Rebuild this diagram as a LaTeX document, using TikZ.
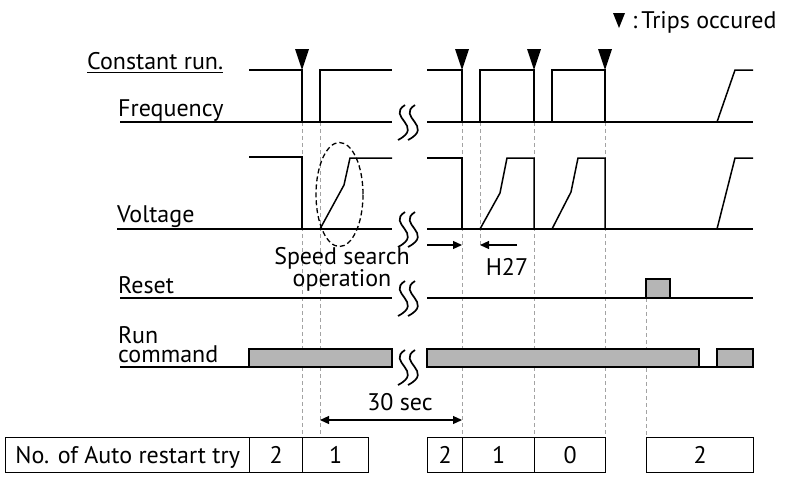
\documentclass[tikz,border=0pt]{standalone}
\usepackage{fontspec}
\setmainfont{PT Sans}
\usetikzlibrary{arrows.meta}
\definecolor{cBar}{HTML}{B5B5B5}
\definecolor{cGuide}{HTML}{A3A3A3}

\begin{document}
\begin{tikzpicture}[
    x=1pt, y=-1pt, font=\fontsize{24}{19}\selectfont,
    base/.style={draw=black, line width=2.2pt},
    sig/.style={draw=black, line width=1.5pt},
    guide/.style={draw=cGuide, line width=1pt, dash pattern=on 4pt off 3pt},
    trip/.style={fill=black, draw=none},
    bar/.style={draw=black, line width=1.3pt, fill=cBar},
    brk/.style={draw=black, line width=1.7pt},
    dim/.style={draw=black, line width=1.2pt, -{Triangle[length=9pt, width=8pt]}},
    lbl/.style={inner sep=0pt, anchor=base west},
    cell/.style={draw=black, line width=1.3pt, minimum height=35pt, inner sep=0pt,
                 anchor=north west, text height=17pt, text depth=0pt},
]
\useasboundingbox (0,0) rectangle (787,477);

% ===================== Guias verticales =====================
\foreach \gx in {302,320,462,534,605}{
    \draw[guide] (\gx,122) -- (\gx,437);
}
\draw[guide] (480,122) -- (480,245);
\draw[guide] (646,298) -- (646,437);

% ===================== Etiquetas =====================
\node[lbl] (crun) at (87,69) {Constant run.};
\draw[line width=1pt] ([yshift=-3pt]crun.south west) -- ([yshift=-3pt]crun.south east);
\node[lbl] (freq) at (118,116) {Frequency};
\node[lbl] (volt) at (117,222) {Voltage};
\node[lbl] (rst) at (118,293) {Reset};
\node[inner sep=0pt, anchor=south west, align=left, text depth=0pt] (run) at (118,363) {Run\\command};
\node[inner sep=0pt, anchor=south, align=center, text depth=0pt,
      font=\fontsize{24}{21}\selectfont] (ss) at (342,287) {Speed search\\operation};
\node[inner sep=0pt, anchor=base] (h27) at (507,275) {H27};
\node[inner sep=0pt, anchor=base] (tsec) at (400,410) {30 sec};

% leyenda
\fill[trip] (613,13) -- (625,13) -- (619,28) -- cycle;
\node[lbl] (legend) at (632,28) {:\,Trips occured};

% ===================== Lineas base =====================
\draw[base] (120,122) -- (392,122);  \draw[base] (427,122) -- (753,122);
\draw[base] (117,229) -- (392,229);  \draw[base] (427,229) -- (753,229);
\draw[base] (120,298) -- (392,298);  \draw[base] (427,298) -- (753,298);
\draw[base] (120,367) -- (392,367);  \draw[base] (427,367) -- (753,367);

% ===================== Frecuencia =====================
\draw[sig] (249,70) -- (302,70) -- (302,122);
\draw[sig] (320,122) -- (320,70) -- (392,70);
\draw[sig] (427,70) -- (462,70) -- (462,122);
\draw[sig] (480,122) -- (480,70) -- (534,70) -- (534,122);
\draw[sig] (552,122) -- (552,70) -- (605,70) -- (605,122);
\draw[sig] (717,122) -- (735,70) -- (753,70);
\foreach \tx in {302,462,534,605}{
    \fill[trip] (\tx-7,49) -- (\tx+7,49) -- (\tx,70) -- cycle;
}

% ===================== Tension =====================
\draw[sig] (249,157) -- (302,157) -- (302,229);
\draw[sig] (320,229) -- (344,185) -- (350,158) -- (392,158);
\draw[sig] (427,158) -- (462,158) -- (462,229);
\draw[sig] (480,229) -- (500,193) -- (507,158) -- (534,158) -- (534,229);
\draw[sig] (552,229) -- (571,192) -- (578,158) -- (605,158) -- (605,229);
\draw[sig] (717,229) -- (735,158) -- (753,158);
\draw[black, line width=1.3pt, dash pattern=on 5pt off 3pt] (339.5,194.5) ellipse [x radius=23.5, y radius=52];

% ===================== Reset y Run =====================
\draw[bar] (646,298) rectangle (670,279);
\draw[bar] (249,367) rectangle (392,349);
\draw[bar] (427,367) rectangle (699,349);
\draw[bar] (717,367) rectangle (753,349);

% cortes del eje de tiempo
\foreach \yy in {122,229,298,367}{
    \draw[brk] (405,\yy-17) .. controls (386,\yy-5) and (425,\yy+4) .. (398,\yy+18);
    \draw[brk] (415,\yy-17) .. controls (396,\yy-5) and (435,\yy+4) .. (408,\yy+18);
}

% ===================== Cotas =====================
\coordinate (hA) at (427,245);  \coordinate (hB) at (462,245);
\coordinate (hC) at (517,245);  \coordinate (hD) at (480,245);
\draw[dim] (hA) -- (hB);
\draw[dim] (hC) -- (hD);
\coordinate (sA) at (320,420);  \coordinate (sB) at (462,420);
\draw[dim, {Triangle[length=9pt, width=8pt]}-{Triangle[length=9pt, width=8pt]}] (sA) -- (sB);

% ===================== Tabla de reintentos =====================
\node[cell, minimum width=244pt] (tLbl) at (5,437) {No. of Auto restart try};
\node[cell, minimum width=53pt] (tA) at (249,437) {2};
\node[cell, minimum width=66pt] (tB) at (302,437) {1};
\node[cell, minimum width=35pt] (tC) at (427,437) {2};
\node[cell, minimum width=72pt] (tD) at (462,437) {1};
\node[cell, minimum width=71pt] (tE) at (534,437) {0};
\node[cell, minimum width=107pt] (tF) at (646,437) {2};

\end{tikzpicture}
\end{document}
